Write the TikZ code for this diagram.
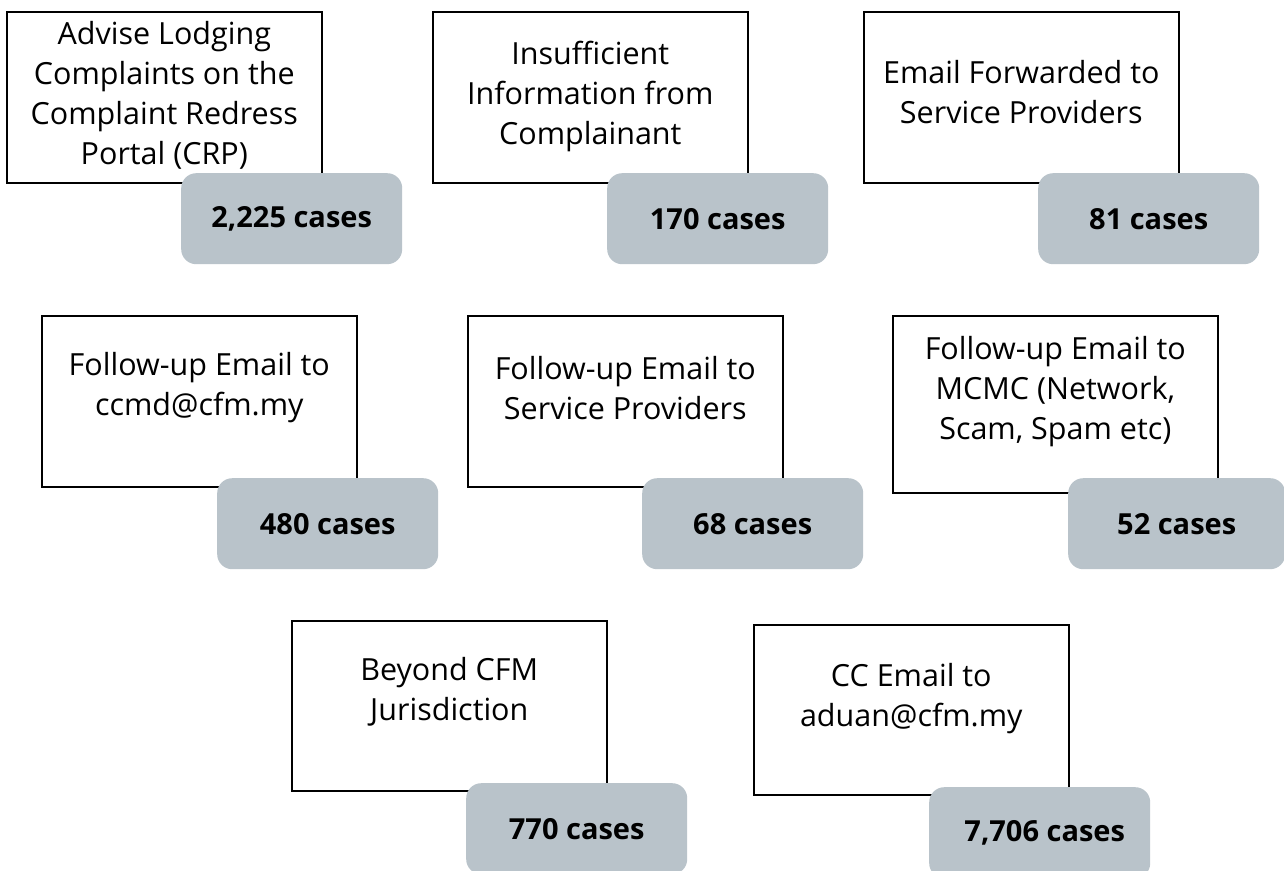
\documentclass[tikz,border=0pt]{standalone}
\usepackage{fontspec}
\setmainfont{Open Sans}
\definecolor{tallygray}{RGB}{185,195,202}

\tikzset{
  casebox/.style={
    rectangle,
    draw=black,
    line width=1.6pt,
    minimum width=315pt,
    minimum height=171pt,
    inner sep=0pt,
    anchor=north west
  },
  casetext/.style={
    inner sep=0pt,
    text centered,
    align=center,
    font=\fontsize{30.5}{40}\selectfont
  },
  tally/.style={
    rectangle,
    rounded corners=15pt,
    fill=tallygray,
    minimum width=221pt,
    minimum height=91pt,
    inner sep=0pt,
    anchor=north west,
    font=\fontsize{29}{34}\bfseries\selectfont
  },
}

\begin{document}
\begin{tikzpicture}[x=1pt, y=-1pt]
  \useasboundingbox (0,0) rectangle (1284,870);
  % first row
  \node[casebox] (crp) at (6, 11) {};
  \node[casetext] (crpt) at ([yshift=-84pt]crp.north) {Advise Lodging\\Complaints on the\\Complaint Redress\\Portal (CRP)};
  \node[tally] (crpn) at (181, 173) {2,225 cases};
  \node[casebox] (info) at (432, 11) {};
  \node[casetext] (infot) at ([yshift=-85pt]info.north) {Insufficient\\Information from\\Complainant};
  \node[tally] (infon) at (607, 173) {170 cases};
  \node[casebox] (fwd) at (863, 11) {};
  \node[casetext] (fwdt) at ([yshift=-81pt]fwd.north) {Email Forwarded to\\Service Providers};
  \node[tally] (fwdn) at (1038, 173) {81 cases};
  % second row
  \node[casebox] (ccmd) at (41, 315) {};
  \node[casetext] (ccmdt) at ([yshift=-73pt]ccmd.north) {Follow-up Email to\\ccmd@cfm.my};
  \node[tally] (ccmdn) at (217, 478) {480 cases};
  \node[casebox] (prov) at (467, 315) {};
  \node[casetext] (provt) at ([yshift=-73pt]prov.north) {Follow-up Email to\\Service Providers};
  \node[tally] (provn) at (642, 478) {68 cases};
  \node[casebox, minimum width=325pt, minimum height=177pt] (mcmc) at (892, 315) {};
  \node[casetext] (mcmct) at ([yshift=-77pt]mcmc.north) {Follow-up Email to\\MCMC (Network,\\Scam, Spam etc)};
  \node[tally, minimum width=217pt] (mcmcn) at (1068, 478) {52 cases};
  % third row
  \node[casebox, minimum height=170pt] (cfm) at (291, 620) {};
  \node[casetext] (cfmt) at ([yshift=-72pt]cfm.north) {Beyond CFM\\Jurisdiction};
  \node[tally] (cfmn) at (466, 783) {770 cases};
  \node[casebox, minimum height=170pt] (aduan) at (753, 624) {};
  \node[casetext] (aduant) at ([yshift=-75pt]aduan.north) {CC Email to\\aduan@cfm.my};
  \node[tally] (aduann) at (929, 787) {\hspace{10pt}7,706 cases};
\end{tikzpicture}
\end{document}
